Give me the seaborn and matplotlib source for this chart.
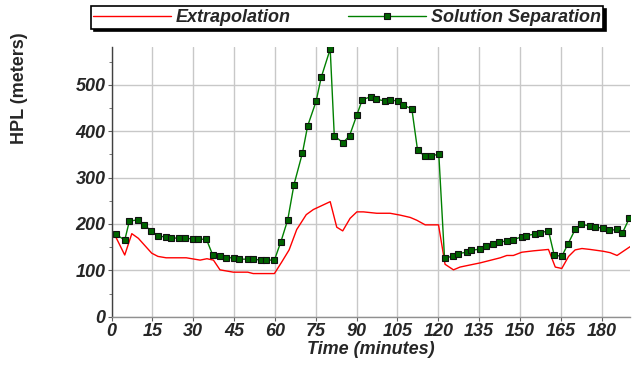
import matplotlib
matplotlib.use("Agg")
import matplotlib.pyplot as plt
import seaborn as sns
import numpy as np
from matplotlib.ticker import MultipleLocator

# ---- data ----
sol_t = [1.5, 4.8, 6.5, 9.7, 11.8, 14.6, 16.9, 20, 21.8, 24.9, 26.8, 29.9, 31.6, 34.8,
         37.2, 39.7, 42, 45.1, 46.9, 50, 51.8, 54.9, 56.7, 59.8, 62.2, 64.7, 67, 70.1,
         72, 75.1, 77, 80.3, 81.8, 85, 87.4, 90.1, 92.1, 95.2, 97.2, 100.4, 102.2, 105.3,
         107.2, 110.3, 112.4, 115.1, 117.5, 120.2, 122.3, 125.4, 127.3, 130.4, 132.2,
         135.4, 137.5, 140.2, 142.5, 145.2, 147.5, 150.6, 152.4, 155.5, 157.5, 160.5,
         162.6, 165.4, 167.6, 170.3, 172.5, 175.6, 177.6, 180.6, 182.6, 185.7, 187.7, 190.2]
sol_v = [178, 165, 206, 209, 198, 185, 175, 171, 169, 170, 170, 167, 167, 167,
         132, 130, 127, 127, 124, 124, 124, 122, 122, 122, 162, 209, 285, 353,
         411, 464, 516, 577, 390, 375, 390, 435, 468, 474, 469, 465, 467, 465,
         456, 448, 359, 346, 346, 351, 127, 130, 136, 139, 143,
         146, 152, 156, 160, 164, 166, 172, 175, 178, 181, 185,
         133, 130, 156, 188, 199, 196, 193, 191, 186, 188, 181, 212]

ext_t = [1.5, 4.8, 7.4, 9.8, 14.7, 17, 20, 27.4, 32.5, 35, 37.4, 39.8, 44.7, 50, 52, 59.8,
         62.5, 65.2, 68, 71.5, 74.1, 80.3, 82.7, 84.9, 87.6, 90.1, 92.5, 97.4, 102.3, 106,
         109.7, 112.1, 115.2, 120.1, 122.5, 125.6, 128, 132.9, 135.4, 142.8, 145.2, 147.6,
         150.7, 155, 160.5, 163, 165.4, 167.9, 170.3, 172.8, 175.8, 180.7, 183.2, 185.7, 190.5]
ext_v = [172, 133, 179, 169, 137, 130, 127, 127, 122, 125, 122, 101, 96, 96, 93, 93,
         118, 144, 188, 220, 231, 248, 193, 185, 212, 226, 226, 223, 223, 219,
         214, 208, 198, 198, 113, 101, 107, 113, 116, 127, 132, 132,
         139, 142, 145, 107, 104, 130, 144, 147, 145, 141, 138, 132, 151]

x_ticks = list(range(0, 181, 15))
y_ticks = [0, 100, 200, 300, 400, 500]

sns.set_style("white")
plt.rcParams['font.family'] = ['Liberation Sans', 'DejaVu Sans']

fig = plt.figure(figsize=(6.32, 3.68), dpi=100)
ax = fig.add_axes([0.1767, 0.1394, 0.8203, 0.7336])

sns.lineplot(x=ext_t, y=ext_v, ax=ax, color='#ff0000', lw=1.0, label='Extrapolation',
             sort=False, estimator=None)
sns.lineplot(x=sol_t, y=sol_v, ax=ax, color='#008000', lw=1.0, marker='s',
             markersize=4.6, markerfacecolor='#006400', markeredgecolor='#111111',
             markeredgewidth=0.8, label='Solution Separation', sort=False, estimator=None)

ax.set_xlim(0, 190.5)
ax.set_ylim(0, 582)
ax.set_xticks(x_ticks)
ax.set_yticks(y_ticks)
ax.yaxis.set_minor_locator(MultipleLocator(50))
ax.grid(True, which='major', color='#c8c8c8', lw=1.0)
ax.set_axisbelow(True)

for s in ['top', 'right']:
    ax.spines[s].set_visible(False)
ax.spines['left'].set_color('#404040')
ax.spines['bottom'].set_color('#909090')
ax.spines['left'].set_linewidth(1.0)
ax.spines['bottom'].set_linewidth(1.0)

ax.tick_params(axis='both', which='major', length=3, width=0.8, color='#606060', pad=1.5,
               left=True, bottom=True)
ax.tick_params(axis='y', which='minor', length=2, width=0.6, color='#606060', left=True)
for lab in ax.get_xticklabels() + ax.get_yticklabels():
    lab.set_fontweight('bold')
    lab.set_fontstyle('italic')
    lab.set_fontsize(13)

ax.set_xlabel('Time (minutes)', fontsize=13, fontweight='bold', fontstyle='italic', labelpad=1)
ax.set_ylabel('')
fig.text(20 / 632, 1 - 88 / 368, 'HPL (meters)', rotation=90, fontsize=13,
         fontweight='bold', ha='center', va='center')

ax.get_legend().remove()
h, l = ax.get_legend_handles_labels()
leg = fig.legend(h, l, loc='center', bbox_to_anchor=(347 / 632, 1 - 17.5 / 368), ncol=2,
                 frameon=True, fancybox=False, shadow={'color': 'black', 'alpha': 1.0},
                 handlelength=4.3, handletextpad=0.25, columnspacing=3.2,
                 borderpad=0.15, borderaxespad=0,
                 prop={'weight': 'bold', 'style': 'italic', 'size': 13})
leg.get_frame().set_edgecolor('black')
leg.get_frame().set_linewidth(1.2)
leg.get_frame().set_alpha(1)

fig.savefig('out.png', dpi=100)
